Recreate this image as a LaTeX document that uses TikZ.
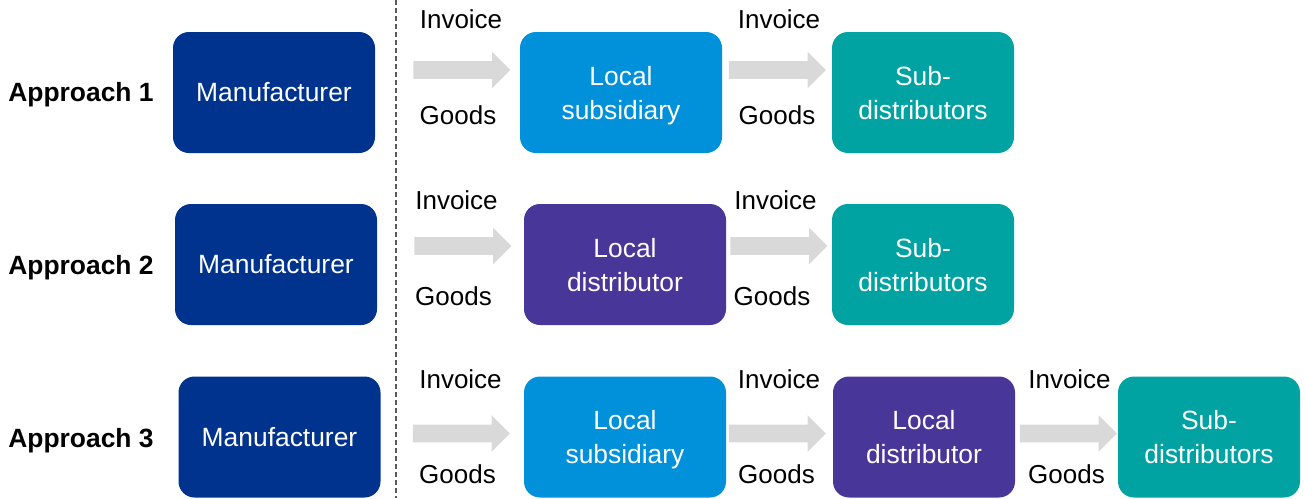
\documentclass[tikz,border=0pt]{standalone}
\usepackage{fontspec}
\setmainfont{Liberation Sans}
\usetikzlibrary{shapes.arrows}

\definecolor{mfgblue}{HTML}{00338D}
\definecolor{subblue}{HTML}{0091DA}
\definecolor{distpurple}{HTML}{483698}
\definecolor{subteal}{HTML}{00A3A1}
\definecolor{flowgray}{HTML}{D9D9D9}

\tikzset{
    box/.style={rounded corners=8pt, minimum width=101pt, minimum height=60.5pt, inner sep=0pt, text=white, align=center, font=\fontsize{13.2}{17}\selectfont},
    twoline/.style={text height=29.6pt, text depth=2.8pt},
    smallbox/.style={box, twoline, minimum width=91pt},
    flow/.style={single arrow, fill=flowgray, draw=none, inner sep=4.25pt, single arrow head extend=4.75pt, single arrow tip angle=90, minimum height=48.5pt},
    txt/.style={inner sep=0pt, font=\fontsize{13}{15}\selectfont},
    approach/.style={anchor=west, inner sep=0pt, font=\fontsize{13.2}{15}\selectfont\bfseries}
}

\begin{document}
\begin{tikzpicture}[x=0.5pt, y=-0.5pt]
    \useasboundingbox (0,0) rectangle (1305,498);
    \draw[line width=0.6pt, color=black!65, dash pattern=on 2.5pt off 1.5pt] (396,0) -- (396,498); % divider

    % approach 1
    \node[approach] (ap1) at (8,95) {Approach 1};
    \node[box, fill=mfgblue] (m1) at (274,92.5) {Manufacturer};
    \node[box, twoline, fill=subblue] (ls1) at (621,92.5) {Local\\subsidiary};
    \node[smallbox, fill=subteal] (sd1) at (923,92.5) {Sub-\\distributors};
    \node[flow] (f11) at (457.5,70) {};
    \node[flow] (f12) at (773,70) {};
    \node[txt] (inv11) at (461,19) {Invoice};
    \node[txt] (gds11) at (458,115) {Goods};
    \node[txt] (inv12) at (779,19) {Invoice};
    \node[txt] (gds12) at (777,115) {Goods};

    % approach 2
    \node[approach] (ap2) at (8,268) {Approach 2};
    \node[box, fill=mfgblue] (m2) at (276,264.5) {Manufacturer};
    \node[box, twoline, fill=distpurple] (ld2) at (625,264.5) {Local\\distributor};
    \node[smallbox, fill=subteal] (sd2) at (923,264.5) {Sub-\\distributors};
    \node[flow] (f21) at (458.5,246) {};
    \node[flow] (f22) at (774.5,246) {};
    \node[txt] (inv21) at (456.5,200) {Invoice};
    \node[txt] (gds21) at (453.5,296) {Goods};
    \node[txt] (inv22) at (775.5,200) {Invoice};
    \node[txt] (gds22) at (772,296) {Goods};

    % approach 3
    \node[approach] (ap3) at (8,441) {Approach 3};
    \node[box, fill=mfgblue] (m3) at (279.5,437) {Manufacturer};
    \node[box, twoline, fill=subblue] (ls3) at (625,437) {Local\\subsidiary};
    \node[smallbox, fill=distpurple] (ld3) at (924,437) {Local\\distributor};
    \node[smallbox, fill=subteal] (sd3) at (1209,437) {Sub-\\distributors};
    \node[flow] (f31) at (457,433.5) {};
    \node[flow] (f32) at (773,433.5) {};
    \node[flow] (f33) at (1064,433.5) {};
    \node[txt] (inv31) at (460.5,379) {Invoice};
    \node[txt] (gds31) at (457.5,474) {Goods};
    \node[txt] (inv32) at (779,379) {Invoice};
    \node[txt] (gds32) at (776.5,474) {Goods};
    \node[txt] (inv33) at (1069.5,379) {Invoice};
    \node[txt] (gds33) at (1066.5,474) {Goods};
\end{tikzpicture}
\end{document}
